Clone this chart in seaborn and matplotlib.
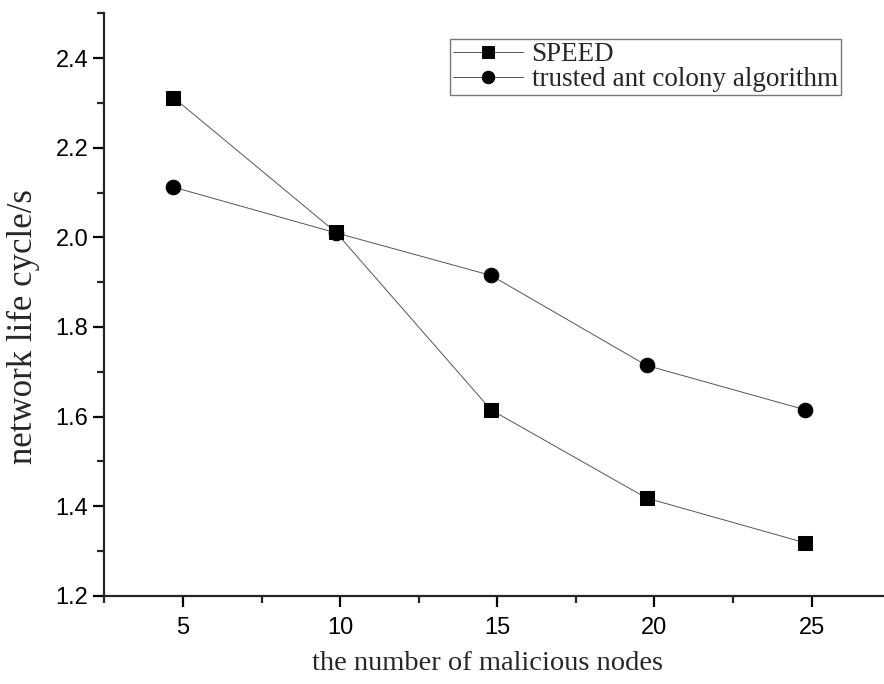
import pandas as pd
import numpy as np
import matplotlib
matplotlib.use("Agg")
import matplotlib.pyplot as plt
import seaborn as sns
from matplotlib.ticker import MultipleLocator

# values
nodes = [4.7, 9.87, 14.8, 19.75, 24.8]
speed = [2.312, 2.011, 1.615, 1.418, 1.318]
trusted = [2.112, 2.010, 1.915, 1.714, 1.615]
series_names = ["SPEED", "trusted ant colony algorithm"]

df = pd.DataFrame({
    "nodes": nodes * 2,
    "life": speed + trusted,
    "method": [series_names[0]] * len(nodes) + [series_names[1]] * len(nodes),
})

sns.set_style("ticks")
plt.rcParams["axes.linewidth"] = 1.6

fig = plt.figure(figsize=(8.84, 6.84), dpi=100)
ax = fig.add_axes([0.118, 0.129, 0.882, 0.8515])

sns.lineplot(data=df, x="nodes", y="life", style="method",
             markers={series_names[0]: "s", series_names[1]: "o"},
             dashes=False, color="#555555", linewidth=0.7,
             markersize=9.5, ax=ax)

for line in ax.lines:
    line.set_markerfacecolor("black")
    line.set_markeredgecolor("black")
    if line.get_marker() == "o":
        line.set_markersize(10.5)

ax.set_xlim(2.5, 27.3)
ax.set_ylim(1.2, 2.5)
ax.xaxis.set_major_locator(MultipleLocator(5))
ax.xaxis.set_minor_locator(MultipleLocator(2.5))
ax.yaxis.set_major_locator(MultipleLocator(0.2))
ax.yaxis.set_minor_locator(MultipleLocator(0.1))
ax.set_yticklabels([f"{v:.1f}" for v in ax.get_yticks()])

sns.despine(ax=ax)
ax.tick_params(which="major", direction="out", length=8, width=1.6,
               labelsize=17, colors="black")
ax.tick_params(axis="x", which="major", pad=7)
ax.tick_params(which="minor", direction="out", length=5, width=1.6)
for lab in ax.get_xticklabels() + ax.get_yticklabels():
    lab.set_family("Liberation Sans")

ax.set_xlabel("the number of malicious nodes", family="Liberation Serif",
              fontsize=20.5, va="center")
ax.set_ylabel("network life cycle/s", family="Liberation Serif",
              fontsize=25, va="center")
ax.xaxis.set_label_coords(0.4915, -0.117)
ax.yaxis.set_label_coords(-0.104, 0.463)

handles, labels = ax.get_legend_handles_labels()
leg = ax.legend(handles, labels, loc="upper left", bbox_to_anchor=(0.443, 0.956),
                borderaxespad=0, fancybox=False, handlelength=2.6,
                prop={"family": "Liberation Serif", "size": 19.5},
                labelspacing=0.0, handletextpad=0.3, borderpad=0.12,
                edgecolor="#777777", framealpha=1, markerscale=0.85)
leg.get_frame().set_linewidth(1.0)

fig.savefig("out.png", dpi=100)
